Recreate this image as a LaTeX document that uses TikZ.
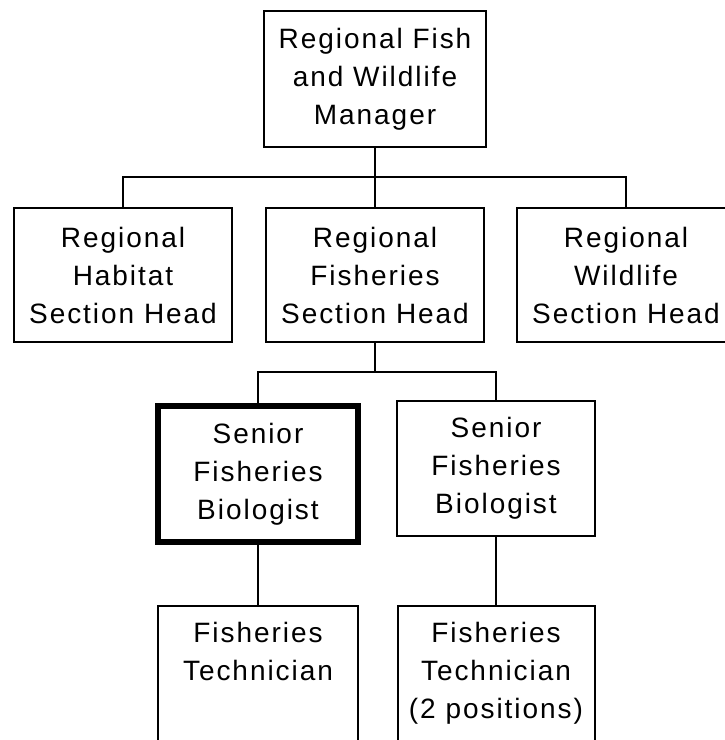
\documentclass[tikz,border=0pt]{standalone}
\usepackage{fontspec}
\setmainfont{Liberation Sans}[LetterSpace=7]
\begin{document}
\begin{tikzpicture}[x=1pt,y=-1pt,
    post/.style={draw,line width=2pt,inner sep=0pt,align=center,
      font=\fontsize{28}{38}\selectfont},
    bold post/.style={post,line width=6pt}]
  \path[use as bounding box,clip] (0,0) rectangle (725,740);

  \path (375,79) node(mgr)[post,minimum width=222,minimum height=136]
          {Regional Fish\\and Wildlife\\Manager}
        (123,275) node(hab)[post,minimum width=218,minimum height=134]
          {Regional\\Habitat\\Section Head}
        (375,275) node(fish)[post,minimum width=218,minimum height=134]
          {Regional\\Fisheries\\Section Head}
        (626,275) node(wild)[post,minimum width=218,minimum height=134]
          {Regional\\Wildlife\\Section Head};

  \path (258,474) node(bio1)[bold post,minimum width=200,minimum height=136]
          {Senior\\Fisheries\\Biologist}
        (496,468.5) node(bio2)[post,minimum width=198,minimum height=135]
          {Senior\\Fisheries\\Biologist};

  \path (258,673.5) node(tech1)[post,minimum width=200,minimum height=135]
          {Fisheries\\Technician\\\phantom{(}}
        (496,673.5) node(tech2)[post,minimum width=197,minimum height=135]
          {Fisheries\\Technician\\(2 positions)};

  \coordinate (bus1) at (375,177);
  \coordinate (bus2) at (375,372);

  \draw[line width=2pt] (mgr) -- (bus1);
  \draw[line width=2pt] (hab.north) |- (bus1) -| (wild.north);
  \draw[line width=2pt] (bus1) -- (fish);

  \draw[line width=2pt] (fish) -- (bus2);
  \draw[line width=2pt] (bio1.north) |- (bus2) -| (bio2.north);

  \draw[line width=2pt] (bio1) -- (tech1);
  \draw[line width=2pt] (bio2) -- (tech2);
\end{tikzpicture}
\end{document}
